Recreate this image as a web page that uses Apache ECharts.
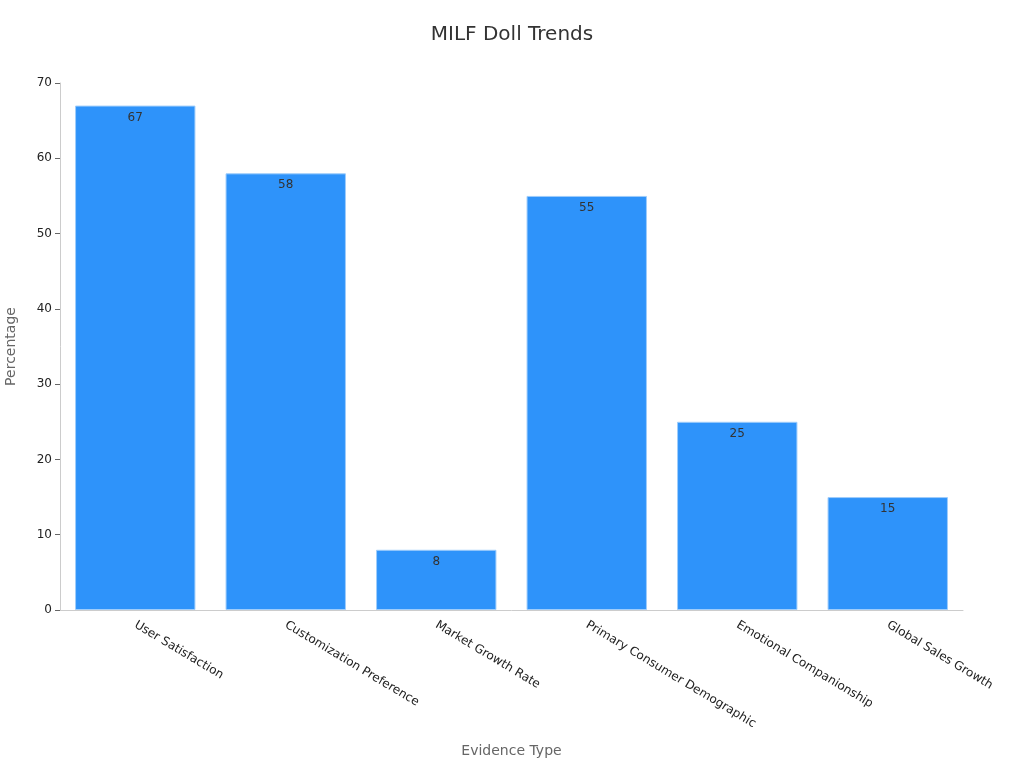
<!DOCTYPE html>
<html>
  <head>
    <meta charset="utf-8">
    <title>MILF Doll Trends</title>
    <style>
      html, body { margin: 0; padding: 0; background: #fff; }
      #chart { width: 1024px; height: 768px; }
    </style>
  </head>
  <body>
    <div id="chart"></div>
    <script src="https://cdn.jsdelivr.net/npm/echarts@6/dist/echarts.min.js"></script>
    <script>
      // Data
      var categories = ['User Satisfaction', 'Customization Preference', 'Market Growth Rate',
        'Primary Consumer Demographic', 'Emotional Companionship', 'Global Sales Growth'];
      var values = [67, 58, 8, 55, 25, 15];

      var chart = echarts.init(document.getElementById('chart'));
      chart.setOption({
        animation: false,
        textStyle: { fontFamily: 'DejaVu Sans' },
        title: {
          text: 'MILF Doll Trends',
          left: 'center',
          top: 20,
          textStyle: { fontSize: 20, fontWeight: 'normal', color: '#333' }
        },
        grid: { left: 60, right: 61, top: 83, bottom: 158, containLabel: false, outerBoundsMode: 'none' },
        xAxis: {
          type: 'category',
          data: categories,
          name: 'Evidence Type',
          nameLocation: 'middle',
          nameGap: 134,
          nameTextStyle: { color: '#666', fontSize: 14 },
          axisLine: { lineStyle: { color: '#ccc' } },
          axisTick: { alignWithLabel: true, length: 5, lineStyle: { color: '#666' } },
          axisLabel: { rotate: -31, color: '#222', fontSize: 12, margin: 14, interval: 0 }
        },
        yAxis: {
          type: 'value',
          min: 0,
          max: 70,
          interval: 10,
          name: 'Percentage',
          nameLocation: 'middle',
          nameGap: 42,
          nameTextStyle: { color: '#666', fontSize: 14 },
          axisLine: { show: true, lineStyle: { color: '#ccc' } },
          axisTick: { show: true, length: 5, lineStyle: { color: '#666' } },
          axisLabel: { color: '#222', fontSize: 12, margin: 8 },
          splitLine: { show: false }
        },
        series: [{
          type: 'bar',
          data: values,
          barCategoryGap: '20%',
          itemStyle: { color: '#2E93FA', borderColor: '#9fcdfb', borderWidth: 1 },
          label: {
            show: true,
            position: 'insideTop',
            distance: 6,
            color: '#333',
            fontSize: 12
          }
        }]
      });
    </script>
  </body>
</html>
